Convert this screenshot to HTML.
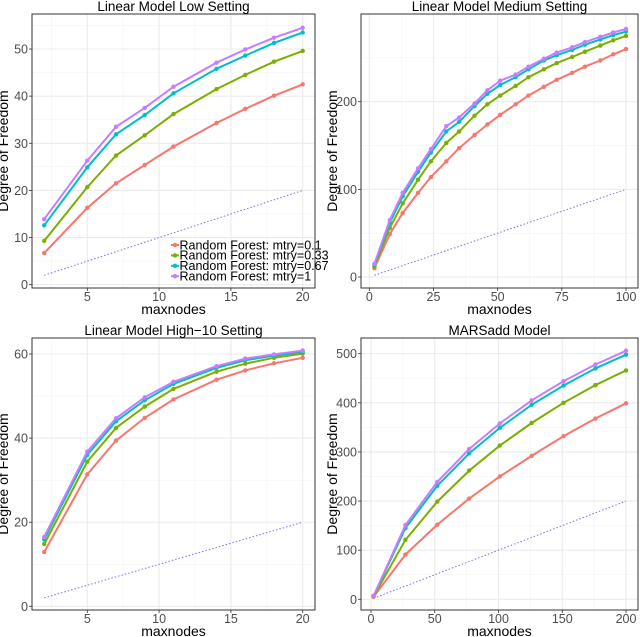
<!DOCTYPE html>
<html><head><meta charset="utf-8"><style>
body{margin:0;background:#fff;}
svg{display:block;font-family:"Liberation Sans",sans-serif;}
</style></head><body>
<svg id="c" width="640" height="637" xmlns="http://www.w3.org/2000/svg"></svg>
<script>
const xs1 = [2,5,7,9,11,14,16,18,20];
const xs2 = [2,8,13,19,24,30,35,41,46,51,57,62,68,73,79,84,90,95,100];
const xs4 = [2,27,52,77,101,126,151,176,200];
const seriesNames = ["Random Forest: mtry=0.1","Random Forest: mtry=0.33","Random Forest: mtry=0.67","Random Forest: mtry=1"];
const colors = ["#f8766d","#7cae00","#00bfc4","#c77cff"];
const p1Red = [6.7,16.3,21.5,25.4,29.3,34.3,37.3,40.1,42.5];
const p1Green = [9.3,20.7,27.4,31.7,36.2,41.5,44.5,47.3,49.6];
const p1Cyan = [12.6,24.9,31.9,36.0,40.6,45.8,48.6,51.3,53.5];
const p1Purple = [13.9,26.3,33.5,37.5,42.0,47.1,49.9,52.4,54.5];
const p2Red = [10,49,73,96,114,132,147,162,174,185,197,207,217,225,233,240,247,254,260];
const p2Green = [12,56,84,111,132,153,166,184,197,207,218,228,237,244,251,257,264,270,275];
const p2Cyan = [14,62,92,120,142,166,177,195,209,219,228,237,247,253,259,265,271,276,280];
const p2Purple = [15,65,96,124,146,172,182,198,213,224,231,240,249,256,262,268,274,279,283];
const p3Red = [12.9,31.4,39.4,44.8,49.2,53.9,56.1,57.8,59.1];
const p3Green = [14.8,34.4,42.4,47.5,51.7,55.8,57.7,59.1,60.1];
const p3Cyan = [15.9,36.0,44.0,49.0,52.9,56.7,58.5,59.6,60.5];
const p3Purple = [16.5,36.8,44.7,49.7,53.4,57.1,58.9,59.9,60.8];
const p4Red = [5,91,152,205,250,292,332,368,399];
const p4Green = [6,121,199,262,313,359,400,436,466];
const p4Cyan = [7,145,231,297,349,396,435,470,498];
const p4Purple = [7,151,239,306,358,405,444,478,506];
const titles = ["Linear Model Low Setting","Linear Model Medium Setting","Linear Model High\u221210 Setting","MARSadd Model"];
const xTicks1 = [5,10,15,20], yTicks1 = [0,10,20,30,40,50];
const xTicks2 = [0,25,50,75,100], yTicks2 = [0,100,200];
const yTicks3 = [0,20,40,60];
const xTicks4 = [0,50,100,150,200], yTicks4 = [0,100,200,300,400,500];

const NS="http://www.w3.org/2000/svg";
const svg=document.getElementById('c');
function mk(tag,at,parent){const e=document.createElementNS(NS,tag);for(const k in at)e.setAttribute(k,at[k]);(parent||svg).appendChild(e);return e;}

const panels=[
 {box:[32,14,315,288],x0:5,xp0:87.3,x1:20,xp1:302.7,y0:0,yp0:284.7,y1:50,yp1:49,xs:xs1,ser:[p1Red,p1Green,p1Cyan,p1Purple],xt:xTicks1,yt:yTicks1,dmax:20,legend:true},
 {box:[361,14,638,288],x0:0,xp0:369.3,x1:100,xp1:626,y0:0,yp0:277,y1:200,yp1:101.7,xs:xs2,ser:[p2Red,p2Green,p2Cyan,p2Purple],xt:xTicks2,yt:yTicks2,dmax:100},
 {box:[32,338,315,610],x0:5,xp0:87.3,x1:20,xp1:302.7,y0:0,yp0:606.3,y1:60,yp1:354,xs:xs1,ser:[p3Red,p3Green,p3Cyan,p3Purple],xt:xTicks1,yt:yTicks3,dmax:20},
 {box:[361,338,638,610],x0:0,xp0:371,x1:200,xp1:626,y0:0,yp0:599.3,y1:500,yp1:353.7,xs:xs4,ser:[p4Red,p4Green,p4Cyan,p4Purple],xt:xTicks4,yt:yTicks4,dmax:200}
];

panels.forEach((p,i)=>{
 const g=mk('g',{});
 
 
 const [L,T,R,B]=p.box;
 const sx=v=>p.xp0+(v-p.x0)*(p.xp1-p.xp0)/(p.x1-p.x0);
 const sy=v=>p.yp0+(v-p.y0)*(p.yp1-p.yp0)/(p.y1-p.y0);
 const bg=mk('rect',{x:L,y:T,width:R-L,height:B-T,fill:'#fff'},g);
 
 
 const dx=p.xt[1]-p.xt[0], dy=p.yt[1]-p.yt[0];
 for(let v=p.xt[0]-dx/2; v<=p.xt[p.xt.length-1]+dx; v+=dx){const X=sx(v); if(X>L&&X<R) mk('line',{x1:X,x2:X,y1:T,y2:B,stroke:'#f3f3f3','stroke-width':0.6},g);}
 for(let v=p.yt[0]-dy/2; v<=p.yt[p.yt.length-1]+dy; v+=dy){const Y=sy(v); if(Y>T&&Y<B) mk('line',{x1:L,x2:R,y1:Y,y2:Y,stroke:'#f3f3f3','stroke-width':0.6},g);}
 p.xt.forEach(v=>{const X=sx(v);mk('line',{x1:X,x2:X,y1:T,y2:B,stroke:'#ebebeb','stroke-width':1.1},g);
  mk('line',{x1:X,x2:X,y1:B,y2:B+3,stroke:'#333','stroke-width':0.8},g);
  const t=mk('text',{x:X,y:B+13,'text-anchor':'middle','font-size':12.5,fill:'#4d4d4d'},g);t.textContent=v;
  });
 p.yt.forEach(v=>{const Y=sy(v);mk('line',{x1:L,x2:R,y1:Y,y2:Y,stroke:'#ebebeb','stroke-width':1.1},g);
  mk('line',{x1:L-3,x2:L,y1:Y,y2:Y,stroke:'#333','stroke-width':0.8},g);
  const t=mk('text',{x:L-4,y:Y+4.5,'text-anchor':'end','font-size':12.5,fill:'#4d4d4d'},g);t.textContent=v;
  });
 const d=mk('line',{x1:sx(2),y1:sy(2),x2:sx(p.dmax),y2:sy(p.dmax),stroke:'#7b6fe0','stroke-width':1,'stroke-dasharray':'1.5,2'},g);
 
 p.ser.forEach((s,k)=>{
  const pts=s.map((v,j)=>sx(p.xs[j]).toFixed(1)+','+sy(v).toFixed(1)).join(' ');
  const pl=mk('polyline',{points:pts,fill:'none',stroke:colors[k],'stroke-width':2},g);
  
  s.forEach((v,j)=>{const c=mk('circle',{cx:sx(p.xs[j]),cy:sy(v),r:2.2,fill:colors[k]},g);
   });
 });
 mk('rect',{x:L,y:T,width:R-L,height:B-T,fill:'none',stroke:'#333','stroke-width':1},g);
 const tt=mk('text',{x:(L+R)/2,y:T-3,'text-anchor':'middle','font-size':13.5,fill:'#000'},g);tt.textContent=titles[i];
 
 const xl=mk('text',{x:(L+R)/2,y:B+26,'text-anchor':'middle','font-size':14,fill:'#000'},g);xl.textContent='maxnodes';
 
 const yx=L-24,yy=(T+B)/2;
 const yl=mk('text',{x:yx,y:yy,'text-anchor':'middle','font-size':14,fill:'#000',transform:'rotate(-90 '+yx+' '+yy+')'},g);yl.textContent='Degree of Freedom';
 
 if(p.legend){
  const lg=mk('g',{},g);
  
  seriesNames.forEach((n,k)=>{const Y=245+k*10.4;
   mk('line',{x1:171,x2:179,y1:Y,y2:Y,stroke:colors[k],'stroke-width':2},lg);
   mk('circle',{cx:175,cy:Y,r:2.2,fill:colors[k]},lg);
   const t=mk('text',{x:179.5,y:Y+4.3,'font-size':12.5,fill:'#000'},lg);t.textContent=n;
   });
 }
});
</script>
</body></html>
